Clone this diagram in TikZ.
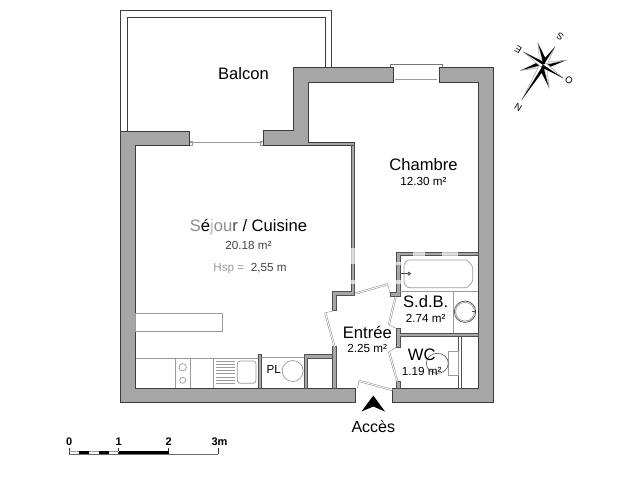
\documentclass[tikz,border=0pt]{standalone}
\usepackage{fontspec}
\setmainfont{Liberation Sans}
\usepackage{xcolor}
\usetikzlibrary{positioning}
\definecolor{wallgrey}{HTML}{A6A6A6}
\definecolor{walldark}{HTML}{3C3C3C}
\definecolor{fixgrey}{HTML}{9A9A9A}
\begin{document}
\begin{tikzpicture}[x=1pt,y=-1pt,node distance=0pt,
                    wall/.style={fill=wallgrey,draw=walldark,line width=.9pt,line join=miter},
                    thinwall/.style={fill=wallgrey,draw=walldark!90,line width=.75pt},
                    fixture/.style={draw=fixgrey,line width=.7pt},
                    leaf/.style={draw=fixgrey,double=white,double distance=.9pt,line width=.6pt},
                    patch/.style={fill=white,opacity=.65},
                    roomlabel/.style={inner sep=0pt,font=\fontsize{16.6}{18}\selectfont},
                    arealabel/.style={inner sep=0pt,font=\fontsize{11.7}{13}\selectfont},
                    scalelabel/.style={inner sep=0pt,font=\fontsize{11}{12}\selectfont\bfseries},
                    windlabel/.style={inner sep=0pt,font=\fontsize{9.5}{10}\selectfont}]
\useasboundingbox (0,0) rectangle (640,480);
% balcon
\draw[draw=walldark,line width=.8pt] (120.7,131) -- (120.7,10) -- (331.7,10) -- (331.7,68);
\draw[draw=walldark,line width=.8pt] (127.3,131) -- (127.3,17.3) -- (325,17.3) -- (325,68);
% baies
\draw[leaf] (190,143.4) -- (262,143.4);
\draw[fixture] (189,141.5) rectangle (192,145) (260,141.5) rectangle (263,145);
\draw[leaf] (395,80.3) -- (437,80.3);
\draw[draw=walldark!70,line width=.7pt] (390,67.7) -- (390,64) -- (442.7,64) -- (442.7,67.7);
% murs
\draw[wall] (120.7,131) -- (189,131) -- (189,145.7) -- (135.7,145.7) -- (135.7,388.3)
  -- (355,388.3) -- (355,402.7) -- (120.7,402.7) -- cycle;
\draw[wall] (263,130.7) -- (293.3,130.7) -- (293.3,67.7) -- (393.3,67.7) -- (393.3,82.3)
  -- (308.3,82.3) -- (308.3,142.3) -- (354.3,142.3) -- (354.3,145.7) -- (263,145.7) -- cycle;
\draw[wall] (439,67.7) -- (493.3,67.7) -- (493.3,402.7) -- (392.7,402.7) -- (392.7,388.3)
  -- (478.3,388.3) -- (478.3,82.3) -- (439,82.3) -- cycle;
% cloisons
\draw[thinwall] (351,145.7) -- (354.3,145.7) -- (354.3,295) -- (336,295) -- (336,310.7)
  -- (332.7,310.7) -- (332.7,291.7) -- (351,291.7) -- cycle;
\draw[thinwall] (332.7,346.7) rectangle (336,388.3);
\draw[thinwall] (258.3,354.3) rectangle (261.7,388.3);
\draw[thinwall] (304.3,354.8) -- (332.7,354.8) -- (332.7,358.3) -- (307.7,358.3) -- (307.7,388.3) -- (304.3,388.3) -- cycle;
\draw[thinwall] (396,252.7) -- (478.3,252.7) -- (478.3,255.7) -- (400,255.7) -- (400,296) -- (390,296) -- (390,292.7) -- (396,292.7) -- cycle;
\draw[thinwall] (396,328.3) -- (400,328.3) -- (400,333.3) -- (478.3,333.3) -- (478.3,336.7) -- (400,336.7) -- (400,347.3) -- (396,347.3) -- cycle;
\draw[thinwall] (396,381.7) rectangle (400,388.3);
\draw[thinwall,fill=white] (458.3,336.7) rectangle (461.7,388.3);
% filigrane
\foreach \xa/\ya/\xb/\yb in {346/248/358/264,346/280/358/284,392/262/403/265,392/280/403/284,413/250/425/258,442/250/458/258}
  \fill[patch] (\xa,\ya) rectangle (\xb,\yb);
% portes
\draw[leaf] (334.5,346.7) -- (325.2,312.8);
\draw[fixture,line width=.5pt] (325.2,312.8) -- (334,310.7);
\draw[leaf] (355.5,293.5) -- (387.7,284.2);
\draw[fixture,line width=.5pt] (387.7,284.2) -- (390,292.7);
\draw[leaf] (395.5,297) -- (388.8,325);
\draw[fixture,line width=.5pt] (388.8,325) -- (396,328.3);
\draw[leaf] (389,351.7) -- (397.3,381.5);
\draw[fixture,line width=.5pt] (389,351.7) -- (396,347.3);
\draw[leaf] (392.3,390) -- (359,380.9);
\draw[fixture,line width=.5pt] (359,380.9) -- (357.4,388.3);
% cuisine
\draw[fixture] (135.7,313.3) rectangle (222,331.3);
\draw[fixture] (135.7,358.3) -- (258.3,358.3);
\foreach \xa in {175,190.7,213.3}
  \draw[fixture] (\xa,358.3) -- (\xa,388.3);
\draw[fixture] (182.7,367.3) circle (3.7);
\draw[fixture] (182.7,380.3) circle (3);
\foreach \ya in {361,364.2,...,384}
  \draw[fixture] (216,\ya) -- (235,\ya);
\draw[fixture,rounded corners=3pt] (237.3,361) rectangle (256,383.3);
\draw[leaf] (262,356.6) -- (304,356.6);
\draw[fixture] (292.7,371) circle (10.5);
% salle de bains
\draw[fixture,rounded corners=6pt] (404,260) -- (460,260) .. controls (468,260) and (472.7,266) .. (472.7,274)
  .. controls (472.7,282) and (468,287.7) .. (460,287.7) -- (404,287.7) -- cycle;
\draw[fixture,draw=black!70] (400,273.4) -- (408,273.4);
\draw[fixture,draw=black!70,fill=fixgrey] (409,273.7) circle (1.5);
\draw[fixture] (400,291) -- (478.3,291);
\draw[fixture] (453.3,291) -- (453.3,333.3);
\draw[fixture,draw=black!70] (465,311.7) circle (10.7);
\draw[fixture] (465,311.7) circle (9.4);
\draw[draw=black!70,line width=1pt] (472,311.7) -- (476,311.7);
% wc
\draw[fixture] (448.3,351) rectangle (458.3,375);
\draw[fixture,draw=black!60] (437.3,363.3) ellipse (11 and 10);
% fleche d'entree
\fill[black] (373.3,395.5) -- (385,411.5) -- (373.3,406.5) -- (361.5,411.5) -- cycle;
% echelle
\draw[draw=fixgrey!70!black,line width=.7pt] (69.3,454) -- (218.3,454);
\draw[draw=black!80,line width=.7pt] (69.3,447.7) -- (69.3,454) (118.7,447.7) -- (118.7,454)
  (168.7,447.7) -- (168.7,454) (218.3,447.7) -- (218.3,454);
\foreach \xa/\xb in {79/89,98.7/109,118.7/168.7}
  \fill[black] (\xa,451.3) rectangle (\xb,454);
\draw[draw=fixgrey,line width=.5pt] (69.3,451.5) -- (79,451.5) (89,451.5) -- (98.7,451.5) (109,451.5) -- (118.7,451.5);
% rose des vents
\coordinate (rose) at (543.3,65);
\foreach \tx/\ty/\sx/\sy/\ox/\oy in {
  537.7/42.3/546.5/60.5/539.5/61,
  566.7/60/547.5/68/548/62,
  549.3/88.3/540/69.5/547/69,
  520/70.7/539.5/61.5/538.5/68}{
  \fill[black] (rose) -- (\tx,\ty) -- (\sx,\sy) -- cycle;
  \draw[draw=fixgrey,line width=.4pt,fill=white] (rose) -- (\tx,\ty) -- (\ox,\oy) -- cycle;
}
\foreach \tx/\ty/\sx/\sy/\ox/\oy in {
  521.7/100/546/67/540.5/63,
  555/46.7/540.5/63/546/67,
  523.3/51.7/546/63/541/67,
  563.3/78.3/541/67/546/63}{
  \draw[draw=fixgrey,line width=.4pt,fill=white] (rose) -- (\tx,\ty) -- (\ox,\oy) -- cycle;
  \fill[black] (rose) -- (\tx,\ty) -- (\sx,\sy) -- cycle;
}
\node[windlabel,rotate=148] (nordlabel) at (518.3,107.3) {N};
\node[windlabel,rotate=148] (sudlabel) at (560.3,37) {S};
\node[windlabel,rotate=148] (estlabel) at (518.3,49.3) {E};
\node[windlabel,rotate=148] (ouestlabel) at (569,80) {O};
% textes
\node[roomlabel] (balcon) at (243.5,73.5) {Balcon};
\node[roomlabel] (chambre) at (423.5,165) {Chambre};
\node[arealabel,below = 6pt of chambre] (chambrearea) {12.30 m²};
\node[roomlabel] (sejour) at (248.5,227.5) {{\color{black!45}S}é{\color{black!25}j}{\color{black!45}o}{\color{black!45}u}{\color{black!70}r} / Cuisine};
\node[arealabel,text=black!75,below = 5.5pt of sejour] (sejourarea) {20.18 m²};
\node[arealabel,text=black!75] (hsp) at (250,268.5) {{\color{black!40}Hsp =}\ \ 2,55 m};
\node[roomlabel] (sdb) at (425.7,302) {S.d.B.};
\node[arealabel,below = 6pt of sdb] (sdbarea) {2.74 m²};
\node[roomlabel] (entree) at (367.3,332) {Entrée};
\node[arealabel,below = 6pt of entree] (entreearea) {2.25 m²};
\node[roomlabel] (wc) at (421.7,355) {WC};
\node[arealabel,below = 6.5pt of wc] (wcarea) {1.19 m²};
\node[arealabel] (placard) at (273.7,369.3) {PL};
\node[roomlabel,font=\fontsize{16}{18}\selectfont] (acces) at (373.3,427) {Accès};
\node[scalelabel] (zero) at (69.3,442) {0};
\node[scalelabel] (one) at (118.7,442) {1};
\node[scalelabel] (two) at (168.7,442) {2};
\node[scalelabel] (three) at (219.5,442) {3m};
\end{tikzpicture}
\end{document}
